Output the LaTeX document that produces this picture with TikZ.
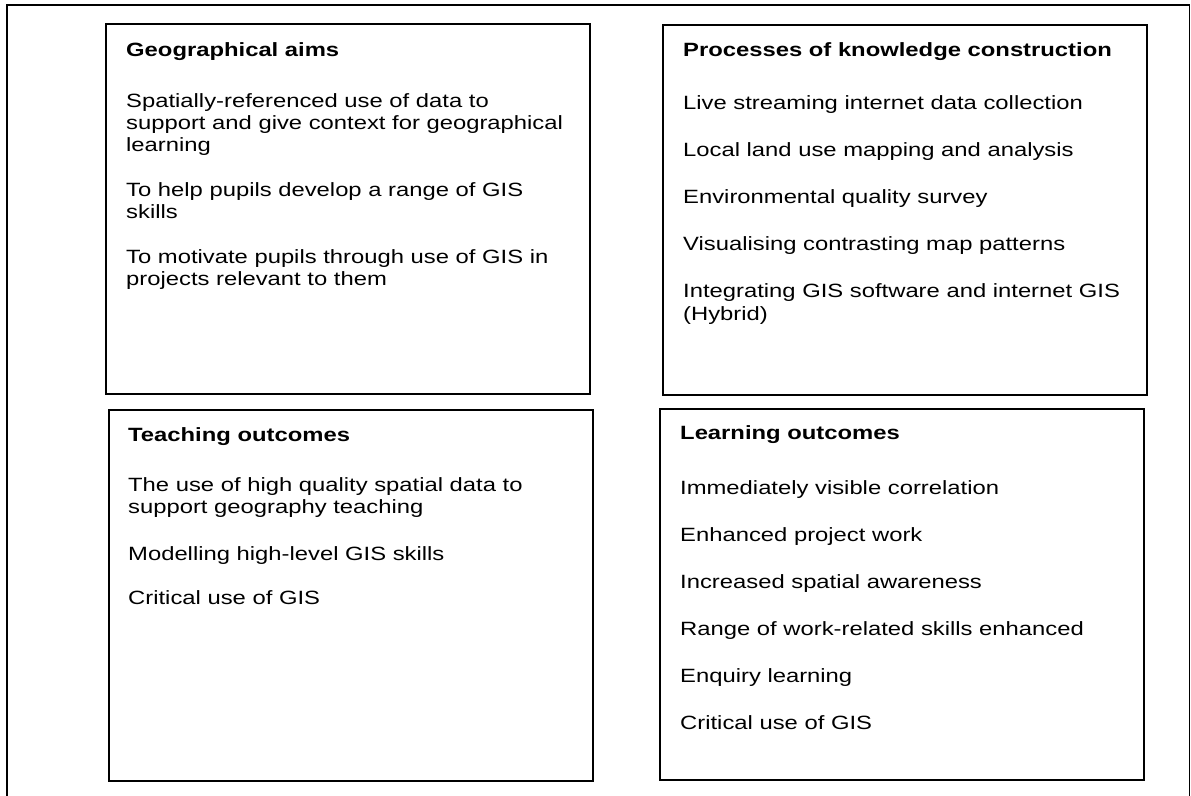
\documentclass[tikz,border=0pt]{standalone}
\usepackage{fontspec}
\setmainfont{Liberation Sans}[FakeStretch=1.24]
\begin{document}
\begin{tikzpicture}[x=1pt,y=-1pt,
  box/.style={draw=black,line width=1.6pt,rectangle,inner sep=0pt,anchor=north west,fill=white},
  frame/.style={draw=black,line width=1.4pt},
  txt/.style={anchor=base west,inner sep=0pt,font=\fontsize{19.2}{23}\selectfont},
  hd/.style={txt,font=\fontsize{19.2}{23}\selectfont\bfseries}]
\useasboundingbox (0,0) rectangle (1191,795);
\begin{scope}
\clip (0,0) rectangle (1191,795);
\draw[frame] (7,805) -- (7,5) -- (1189.5,5) -- (1189.5,805);
\end{scope}
% boxes
\node[box,minimum width=484pt,minimum height=370pt] (ga) at (105,23) {};
\node[box,minimum width=484pt,minimum height=370pt] (pk) at (662,24) {};
\node[box,minimum width=484pt,minimum height=371pt] (to) at (108,409) {};
\node[box,minimum width=484pt,minimum height=371pt] (lo) at (659,408) {};
% Geographical aims
\node[hd]  (ga0) at (126,56)  {Geographical aims};
\node[txt] (ga1) at (126,107) {Spatially-referenced use of data to};
\node[txt] (ga2) at (126,129) {support and give context for geographical};
\node[txt] (ga3) at (126,151) {learning};
\node[txt] (ga4) at (126,196) {To help pupils develop a range of GIS};
\node[txt] (ga5) at (126,218) {skills};
\node[txt] (ga6) at (126,263) {To motivate pupils through use of GIS in};
\node[txt] (ga7) at (126,285) {projects relevant to them};
% Processes
\node[hd]  (pk0) at (683,56)  {Processes of knowledge construction};
\node[txt] (pk1) at (683,109) {Live streaming internet data collection};
\node[txt] (pk2) at (683,156) {Local land use mapping and analysis};
\node[txt] (pk3) at (683,203) {Environmental quality survey};
\node[txt] (pk4) at (683,250) {Visualising contrasting map patterns};
\node[txt] (pk5) at (683,297) {Integrating GIS software and internet GIS};
\node[txt] (pk6) at (683,320) {(Hybrid)};
% Teaching outcomes
\node[hd]  (to0) at (128,441) {Teaching outcomes};
\node[txt] (to1) at (128,491) {The use of high quality spatial data to};
\node[txt] (to2) at (128,513.5) {support geography teaching};
\node[txt] (to3) at (128,560) {Modelling high-level GIS skills};
\node[txt] (to4) at (128,604.5) {Critical use of GIS};
% Learning outcomes
\node[hd]  (lo0) at (680,439) {Learning outcomes};
\node[txt] (lo1) at (680,494) {Immediately visible correlation};
\node[txt] (lo2) at (680,541) {Enhanced project work};
\node[txt] (lo3) at (680,588) {Increased spatial awareness};
\node[txt] (lo4) at (680,635) {Range of work-related skills enhanced};
\node[txt] (lo5) at (680,682) {Enquiry learning};
\node[txt] (lo6) at (680,729) {Critical use of GIS};
\end{tikzpicture}
\end{document}
